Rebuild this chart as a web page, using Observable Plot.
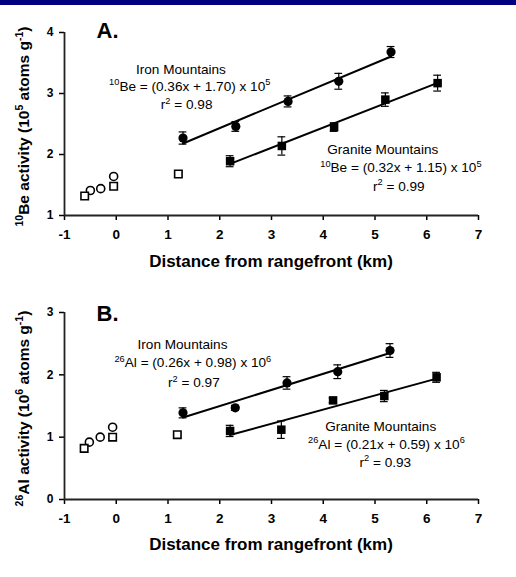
<!DOCTYPE html>
<html><head><meta charset="utf-8">
<script src="https://cdn.jsdelivr.net/npm/d3@7"></script>
<script src="https://cdn.jsdelivr.net/npm/@observablehq/plot@0.6"></script>
<style>
body{margin:0;background:#fff;width:516px;height:577px;overflow:hidden}
#bar{height:5px;background:#000080}
svg{display:block}
</style></head><body><div id="bar"></div><div id="a"></div><div id="b"></div>
<script>
// ---------- data ----------
const xTicks = [-1, 0, 1, 2, 3, 4, 5, 6, 7];
const beTicks = [1, 2, 3, 4];
const alTicks = [0, 1, 2, 3];

// Panel A: 10Be activity (10^5 atoms/g)
const beIronX = [1.29, 2.31, 3.32, 4.30, 5.31];
const beIronY = [2.27, 2.46, 2.87, 3.20, 3.68];
const beIronErr = [0.10, 0.08, 0.09, 0.13, 0.09];
const beGraniteX = [2.20, 3.20, 4.21, 5.20, 6.21];
const beGraniteY = [1.89, 2.14, 2.45, 2.90, 3.17];
const beGraniteErr = [0.09, 0.15, 0.07, 0.11, 0.13];
const beOpenCircleX = [-0.50, -0.30, -0.05];
const beOpenCircleY = [1.41, 1.44, 1.64];
const beOpenSquareX = [-0.61, -0.05, 1.20];
const beOpenSquareY = [1.32, 1.48, 1.68];

// Panel B: 26Al activity (10^6 atoms/g)
const alIronX = [1.29, 2.30, 3.30, 4.28, 5.29];
const alIronY = [1.39, 1.47, 1.87, 2.05, 2.39];
const alIronErr = [0.08, 0.04, 0.10, 0.11, 0.11];
const alGraniteX = [2.20, 3.19, 4.19, 5.18, 6.19];
const alGraniteY = [1.10, 1.12, 1.59, 1.66, 1.96];
const alGraniteErr = [0.09, 0.14, 0.04, 0.09, 0.08];
const alOpenCircleX = [-0.52, -0.31, -0.07];
const alOpenCircleY = [0.92, 1.00, 1.16];
const alOpenSquareX = [-0.62, -0.07, 1.18];
const alOpenSquareY = [0.82, 1.00, 1.04];

const xTitle = "Distance from rangefront (km)";

// ---------- drawing ----------
const FONT = '"Liberation Sans", Arial, Helvetica, sans-serif';
const rows = (xs, ys, es) => xs.map((x, i) => ({x, y: ys[i], e: es ? es[i] : 0}));

function rich(parent, x, y, parts, size, anchor, weight) {
  const t = parent.append("text").attr("x", x).attr("y", y)
    .attr("text-anchor", anchor).attr("font-size", size)
    .attr("font-weight", weight).attr("font-family", FONT).attr("fill", "black");
  let up = false;
  for (const [s, sup] of parts) {
    const ts = t.append("tspan").text(s);
    if (sup) {
      ts.attr("font-size", 0.68 * size);
      if (!up) { ts.attr("dy", -0.38 * size); up = true; }
    } else if (up) { ts.attr("dy", 0.38 * size); up = false; }
  }
  return t;
}

function panel(cfg) {
  const iron = rows(cfg.ironX, cfg.ironY, cfg.ironErr);
  const granite = rows(cfg.graniteX, cfg.graniteY, cfg.graniteErr);
  const openC = rows(cfg.openCX, cfg.openCY);
  const openS = rows(cfg.openSX, cfg.openSY);
  const both = iron.concat(granite);
  const [y0, y1] = cfg.yDomain;
  const cap = 0.075;
  const plot = Plot.plot({
    width: 516, height: cfg.height,
    marginTop: 27, marginBottom: cfg.marginBottom, marginLeft: 64, marginRight: 38,
    x: {domain: [-1, 7]}, y: {domain: cfg.yDomain},
    style: {fontFamily: FONT, color: "black", background: "white", overflow: "visible"},
    marks: [
      Plot.axisX({ticks: xTicks, tickSize: 5, tickPadding: 9, fontSize: 13.5, fontWeight: "bold", label: null, tickFormat: d => String(d), strokeWidth: 1.5}),
      Plot.axisY({ticks: cfg.yTicks, tickSize: 5, tickPadding: 6, fontSize: 12, fontWeight: "bold", label: null, tickFormat: d => String(d), strokeWidth: 1.5}),
      Plot.ruleY([y0], {x1: -1, x2: 7, stroke: "#222", strokeWidth: 1.8}),
      Plot.ruleX([-1], {y1: y0, y2: y1, stroke: "#222", strokeWidth: 1.8}),
      Plot.ruleX(both, {x: "x", y1: d => d.y - d.e, y2: d => d.y + d.e, stroke: "black", strokeWidth: 1.2}),
      Plot.ruleY(both, {y: d => d.y + d.e, x1: d => d.x - cap, x2: d => d.x + cap, stroke: "black", strokeWidth: 1.2}),
      Plot.ruleY(both, {y: d => d.y - d.e, x1: d => d.x - cap, x2: d => d.x + cap, stroke: "black", strokeWidth: 1.2}),
      Plot.linearRegressionY(iron, {x: "x", y: "y", ci: 0, stroke: "black", strokeWidth: 2}),
      Plot.linearRegressionY(granite, {x: "x", y: "y", ci: 0, stroke: "black", strokeWidth: 2}),
      Plot.dot(iron, {x: "x", y: "y", symbol: "circle", r: 4.6, fill: "black", stroke: "none"}),
      Plot.dot(granite, {x: "x", y: "y", symbol: "square", r: 4.8, fill: "black", stroke: "none"}),
      Plot.dot(openC, {x: "x", y: "y", symbol: "circle", r: 4, fill: "white", stroke: "black", strokeWidth: 1.6}),
      Plot.dot(openS, {x: "x", y: "y", symbol: "square", r: 4.2, fill: "white", stroke: "black", strokeWidth: 1.6})
    ]
  });
  const sx = d3.scaleLinear([-1, 7], [64, 516 - 38]);
  const sy = d3.scaleLinear(cfg.yDomain, [cfg.height - cfg.marginBottom, 27]);
  const svg = d3.select(plot);
  // panel letter
  rich(svg, sx(cfg.letterAt[0]), sy(cfg.letterAt[1]), [[cfg.letter]], 22, "start", "bold");
  // y title
  const g = svg.append("g").attr("transform", `translate(29,${(sy(y0) + sy(y1)) / 2 + 3}) rotate(-90)`);
  rich(g, 0, 0, cfg.yTitle, 15.5, "middle", "bold");
  // x title
  rich(svg, (sx(-1) + sx(7)) / 2, cfg.xTitleY, [[xTitle]], 17, "middle", "bold");
  // annotations
  for (const a of cfg.notes) rich(svg, sx(a[0]), sy(a[1]), a[2], 13.6, "middle", "normal");
  return plot;
}

const A = panel({
  height: 280, marginBottom: 70, yDomain: [1, 4], yTicks: beTicks,
  ironX: beIronX, ironY: beIronY, ironErr: beIronErr,
  graniteX: beGraniteX, graniteY: beGraniteY, graniteErr: beGraniteErr,
  openCX: beOpenCircleX, openCY: beOpenCircleY, openSX: beOpenSquareX, openSY: beOpenSquareY,
  letter: "A.", letterAt: [-0.37, 3.90], xTitleY: 262,
  yTitle: [["10", 1], ["Be activity (10"], ["5", 1], [" atoms g"], ["-1", 1], [")"]],
  notes: [
    [1.26, 3.31, [["Iron Mountains"]]],
    [1.43, 3.04, [["10", 1], ["Be = (0.36x + 1.70) x 10"], ["5", 1]]],
    [1.37, 2.738, [["r"], ["2", 1], [" = 0.98"]]],
    [5.16, 1.995, [["Granite Mountains"]]],
    [5.51, 1.71, [["10", 1], ["Be = (0.32x + 1.15) x 10"], ["5", 1]]],
    [5.47, 1.40, [["r"], ["2", 1], [" = 0.99"]]]
  ]
});
const B = panel({
  height: 292, marginBottom: 78, yDomain: [0, 3], yTicks: alTicks,
  ironX: alIronX, ironY: alIronY, ironErr: alIronErr,
  graniteX: alGraniteX, graniteY: alGraniteY, graniteErr: alGraniteErr,
  openCX: alOpenCircleX, openCY: alOpenCircleY, openSX: alOpenSquareX, openSY: alOpenSquareY,
  letter: "B.", letterAt: [-0.37, 2.86], xTitleY: 265,
  yTitle: [["26", 1], ["Al activity (10"], ["6", 1], [" atoms g"], ["-1", 1], [")"]],
  notes: [
    [1.29, 2.40, [["Iron Mountains"]]],
    [1.49, 2.11, [["26", 1], ["Al = (0.26x + 0.98) x 10"], ["6", 1]]],
    [1.51, 1.80, [["r"], ["2", 1], [" = 0.97"]]],
    [5.12, 1.09, [["Granite Mountains"]]],
    [5.23, 0.81, [["26", 1], ["Al = (0.21x + 0.59) x 10"], ["6", 1]]],
    [5.21, 0.52, [["r"], ["2", 1], [" = 0.93"]]]
  ]
});
document.getElementById("a").appendChild(A);
document.getElementById("b").appendChild(B);
</script></body></html>
